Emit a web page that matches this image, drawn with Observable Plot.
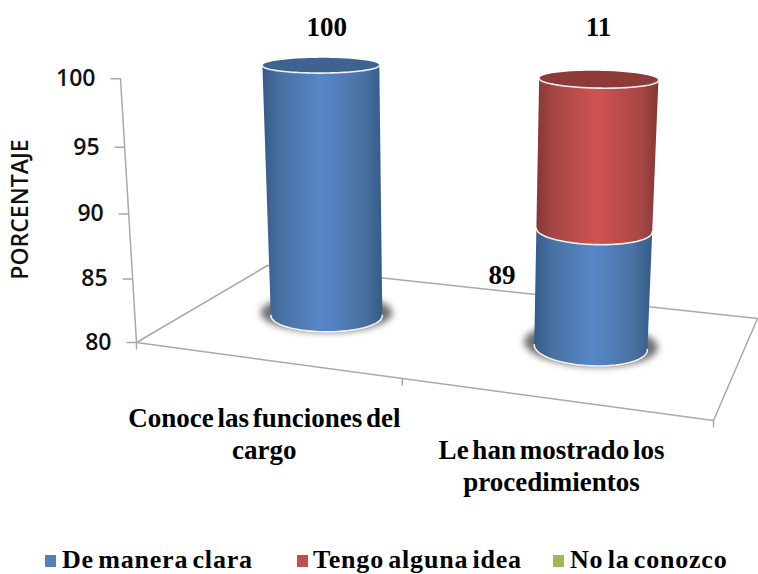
<!DOCTYPE html>
<html lang="es">
<head>
<meta charset="utf-8">
<title>Conocimiento del cargo</title>
<script src="https://cdn.jsdelivr.net/npm/d3@7"></script>
<script src="https://cdn.jsdelivr.net/npm/@observablehq/plot@0.6"></script>
<style>
  html, body { margin: 0; background: #fff; }
  #chart svg { display: block; }
  #legend { position: relative; height: 29px; font: bold 26px "Liberation Serif", serif; color: #000; word-spacing: -3px; letter-spacing: 0.8px; }
  #legend span { position: absolute; top: 0; line-height: 29px; white-space: nowrap; }
  #legend i { position: absolute; top: 10px; width: 11px; height: 12px; }
</style>
</head>
<body>
<div id="chart"></div>
<div id="legend"></div>
<script>
// Chart values
const categories = ["Conoce las funciones del\ncargo", "Le han mostrado los\nprocedimientos"];
const seriesNames = ["De manera clara", "Tengo alguna idea", "No la conozco"];
const deManeraClara = [100, 89];
const tengoAlgunaIdea = [0, 11];
const noLaConozco = [0, 0];
const yTicks = [80, 85, 90, 95, 100];
const yTitle = "PORCENTAJE";
const seriesColors = ["#4f81bd", "#c0504d", "#9bbb59"];

const W = 758, H = 545;
const yMin = 80, yMax = 100;

// Perspective camera: floor corners plus the vanishing point of the value axis.
const floor = {fl: [136, 342], fr: [713, 420], br: [757, 318], bl: [267, 265]};
const vanishing = [441, 5375];
const rise = -0.0498;

const sx = floor.fl[0] - floor.fr[0] + floor.br[0] - floor.bl[0];
const sy = floor.fl[1] - floor.fr[1] + floor.br[1] - floor.bl[1];
const dx1 = floor.fr[0] - floor.br[0], dx2 = floor.bl[0] - floor.br[0];
const dy1 = floor.fr[1] - floor.br[1], dy2 = floor.bl[1] - floor.br[1];
const det = dx1 * dy2 - dx2 * dy1;
const gU = (sx * dy2 - dx2 * sy) / det;
const gD = (dx1 * sy - sx * dy1) / det;

// u runs along the category axis, d into the depth, both 0..1; v is a chart value.
function project(u, d, v) {
  const t = (v - yMin) / (yMax - yMin);
  const w = 1 + gU * u + gD * d + rise * t;
  const px = floor.fl[0] + (floor.fr[0] * (1 + gU) - floor.fl[0]) * u + (floor.bl[0] * (1 + gD) - floor.fl[0]) * d + rise * vanishing[0] * t;
  const py = floor.fl[1] + (floor.fr[1] * (1 + gU) - floor.fl[1]) * u + (floor.bl[1] * (1 + gD) - floor.fl[1]) * d + rise * vanishing[1] * t;
  return {x: px / w, y: py / w};
}

const catU = i => (i + 0.5) / categories.length;
const radiusU = [0.105, 0.097], radiusD = 0.185;

function ring(i, v, grow = 1) {
  return d3.range(121).map(k => {
    const a = k / 120 * 2 * Math.PI;
    return project(catU(i) + grow * radiusU[i] * Math.cos(a), 0.5 + grow * radiusD * Math.sin(a), v);
  });
}

// Visible near half of a ring, left silhouette point to right silhouette point.
function frontArc(i, v) {
  const pts = ring(i, v).slice(0, 120);
  const lo = d3.least(d3.range(120), k => pts[k].x);
  const hi = d3.greatest(d3.range(120), k => pts[k].x);
  const out = [];
  for (let k = lo; ; k = (k + 1) % 120) { out.push(pts[k]); if (k === hi) break; }
  return out;
}

// Stacked segments drawn above the truncated base of the value axis
const segments = [];
categories.forEach((c, i) => {
  let acc = 0;
  [deManeraClara, tengoAlgunaIdea, noLaConozco].forEach((vals, s) => {
    if (vals[i] > 0) {
      const y0 = Math.max(acc, yMin);
      acc += vals[i];
      segments.push({cat: i, series: s, value: vals[i], y0, y1: acc});
    }
  });
});

const shades = [
  {id: "shade0", edge: "#345a88", near: "#47709f", mid: "#5787c9", top: "#3f6391"},
  {id: "shade1", edge: "#843634", near: "#a64745", mid: "#cf5351", top: "#8d3a38"},
  {id: "shade2", edge: "#6b8239", near: "#88a54e", mid: "#a6c960", top: "#6f8a3c"}
];

const gradients = () => {
  const defs = d3.create("svg:defs");
  shades.forEach(s => {
    const g = defs.append("linearGradient").attr("id", s.id);
    [[0, s.edge], [0.14, s.near], [0.5, s.mid], [0.86, s.near], [1, s.edge]].forEach(([o, c]) =>
      g.append("stop").attr("offset", o).attr("stop-color", c));
  });
  return defs.node();
};

const poly = (pts, opts) => Plot.line(pts, {x: "x", y: "y", ...opts});

const marks = [gradients];

// Floor outline and value axis
const corner = (u, d) => project(u, d, yMin);
marks.push(poly([corner(0, 0), corner(0, 1), corner(1, 1), corner(1, 0), corner(0, 0)], {stroke: "#a9a9a9", strokeWidth: 1.5}));
marks.push(poly([project(0, 0, yMin), project(0, 0, yMax)], {stroke: "#a9a9a9", strokeWidth: 1.5}));

// Value ticks and labels
const tickPts = yTicks.map(v => ({v, ...project(0, 0, v)}));
marks.push(Plot.link(tickPts, {x1: d => d.x - 10, y1: "y", x2: "x", y2: "y", stroke: "#a9a9a9", strokeWidth: 1.5}));
marks.push(Plot.text(tickPts, {x: "x", y: "y", text: d => String(d.v), dx: -25, textAnchor: "end", fontSize: 23, fontFamily: "Open Sans", fontWeight: 600, fill: "#111"}));

// Category ticks and labels
const catTicks = d3.range(categories.length + 1).map(i => corner(i / categories.length, 0));
marks.push(Plot.link(catTicks, {x1: "x", y1: "y", x2: "x", y2: d => d.y + 7, stroke: "#a9a9a9", strokeWidth: 1.5}));
const categoryDrop = [45, 38];
categories.forEach((text, i) => {
  marks.push(Plot.text([{text, ...corner(catU(i), 0)}], {
    x: "x", y: "y", text: "text", dy: categoryDrop[i], lineAnchor: "top", lineHeight: 1.17,
    fontFamily: "Liberation Serif", fontWeight: "bold", fontSize: 27, fill: "#000"
  }));
});

// Soft ground shadows
categories.forEach((c, i) => {
  marks.push(poly(ring(i, yMin, 1.18).map(p => ({x: p.x, y: p.y - 3})), {fill: "#6e6e6e", stroke: "none", imageFilter: "blur(3.5px)"}));
});

// Cylinders
categories.forEach((c, i) => {
  const segs = segments.filter(s => s.cat === i);
  segs.forEach(s => {
    const body = [...frontArc(i, s.y0), ...frontArc(i, s.y1).reverse()];
    marks.push(poly(body, {fill: `url(#${shades[s.series].id})`, stroke: "none"}));
    marks.push(poly(frontArc(i, s.y0), {stroke: "#f2f2f2", strokeWidth: 1.6}));
  });
  const last = segs[segs.length - 1];
  marks.push(poly(ring(i, last.y1), {fill: shades[last.series].top, stroke: "none"}));
  marks.push(poly(frontArc(i, last.y1), {stroke: "#f2f2f2", strokeWidth: 1.6}));
});

// Value labels beside each segment top
const labelNudge = [[6, -38], [-92, 46], [0, -52]];
segments.forEach((s, k) => {
  marks.push(Plot.text([{...project(catU(s.cat), 0.5, s.y1), value: s.value}], {
    x: "x", y: "y", text: d => String(d.value), dx: labelNudge[k][0], dy: labelNudge[k][1],
    fontFamily: "Liberation Serif", fontWeight: "bold", fontSize: 27, fill: "#000"
  }));
});

// Axis title
marks.push(Plot.text([yTitle], {
  x: () => 20, y: () => 209, text: d => d, rotate: -90,
  fontFamily: "Open Sans", fontWeight: 600, fontSize: 23, fill: "#111"
}));

const chart = Plot.plot({
  width: W, height: H,
  marginTop: 0, marginRight: 0, marginBottom: 0, marginLeft: 0,
  x: {domain: [0, W], range: [0, W], axis: null},
  y: {domain: [0, H], range: [0, H], axis: null},
  style: {background: "#fff", wordSpacing: "-3px", overflow: "visible"},
  marks
});
document.getElementById("chart").append(chart);

// Legend below the plot
const legendPos = [[45, 62], [297, 313], [553, 570]];
const legend = document.getElementById("legend");
seriesNames.forEach((name, i) => {
  const sw = document.createElement("i");
  sw.style.left = legendPos[i][0] + "px";
  sw.style.background = seriesColors[i];
  const label = document.createElement("span");
  label.style.left = legendPos[i][1] + "px";
  label.textContent = name;
  legend.append(sw, label);
});
</script>
</body>
</html>
